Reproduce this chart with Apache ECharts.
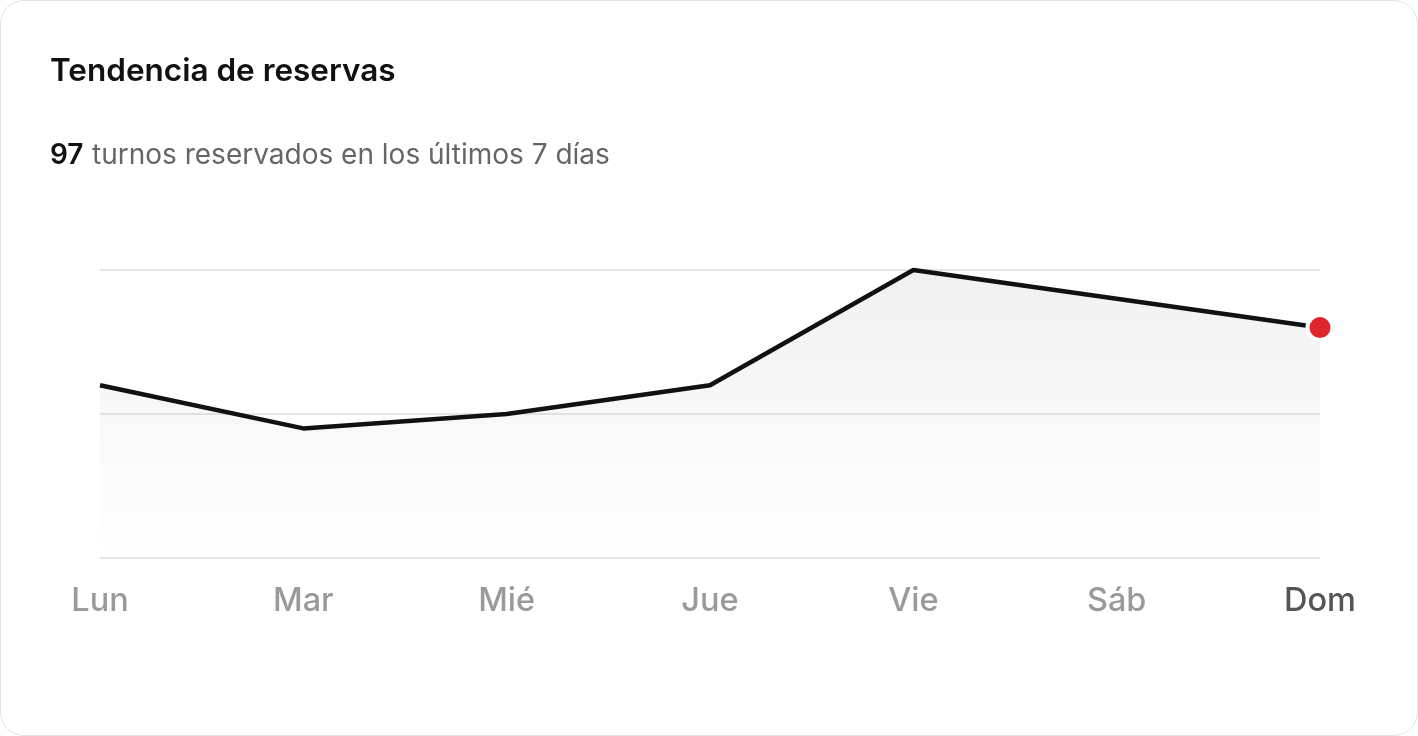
<!DOCTYPE html>
<html>
<head>
<meta charset="utf-8">
<script src="https://cdn.jsdelivr.net/npm/echarts@6/dist/echarts.min.js"></script>
<style>
  html, body { margin: 0; padding: 0; background: #ffffff; }
  #card {
    position: absolute; left: 0; top: 0;
    width: 1416px; height: 734px;
    border: 1px solid #e3e3e3; border-radius: 24px;
    background: #ffffff; overflow: hidden;
  }
  #chart { width: 1416px; height: 734px; }
</style>
</head>
<body>
<div id="card"><div id="chart"></div></div>
<script>
const categories = ['Lun', 'Mar', 'Mié', 'Jue', 'Vie', 'Sáb', 'Dom'];
const bookings = [12, 9, 10, 12, 20, 18, 16];
const totalLabel = '97';
const titleText = 'Tendencia de reservas';
const subtitleText = 'turnos reservados en los últimos 7 días';

const chart = echarts.init(document.getElementById('chart'));
const lastIdx = bookings.length - 1;
const seriesData = bookings.map((v, i) => i === lastIdx ? {
  value: v,
  symbol: 'circle',
  symbolSize: 25,
  itemStyle: { color: '#e0252d', borderColor: '#ffffff', borderWidth: 4 }
} : v);

chart.setOption({
  animation: false,
  textStyle: { fontFamily: 'Inter' },
  title: [
    {
      text: titleText,
      left: 49, top: 55, padding: 0,
      textStyle: { fontFamily: 'Inter', fontSize: 31.5, fontWeight: 600, color: '#111111' }
    },
    {
      text: '{b|' + totalLabel + '}  {n|' + subtitleText + '}',
      left: 49, top: 141, padding: 0,
      textStyle: {
        rich: {
          b: { fontFamily: 'Inter', fontSize: 28, fontWeight: 600, color: '#111111' },
          n: { fontFamily: 'Inter', fontSize: 28, fontWeight: 400, color: '#666666' }
        }
      }
    }
  ],
  grid: { left: 99, right: 97, top: 269, bottom: 177 },
  xAxis: {
    type: 'category',
    data: categories,
    boundaryGap: false,
    axisLine: { show: false },
    axisTick: { show: false },
    axisLabel: {
      margin: 27,
      fontFamily: 'Inter',
      fontSize: 32.5,
      fontWeight: 500,
      color: (val, idx) => idx === lastIdx ? '#555555' : '#9a9a9a'
    }
  },
  yAxis: {
    type: 'value',
    min: 0, max: 20, interval: 10,
    axisLabel: { show: false },
    axisLine: { show: false },
    axisTick: { show: false },
    splitLine: { lineStyle: { color: '#e6e6e6', width: 2 } }
  },
  series: [{
    type: 'line',
    data: seriesData,
    symbol: 'none',
    clip: false,
    lineStyle: { color: '#111111', width: 4.5 },
    areaStyle: {
      color: new echarts.graphic.LinearGradient(0, 0, 0, 1, [
        { offset: 0, color: 'rgba(0,0,0,0.08)' },
        { offset: 1, color: 'rgba(0,0,0,0)' }
      ])
    }
  }]
});
</script>
</body>
</html>
